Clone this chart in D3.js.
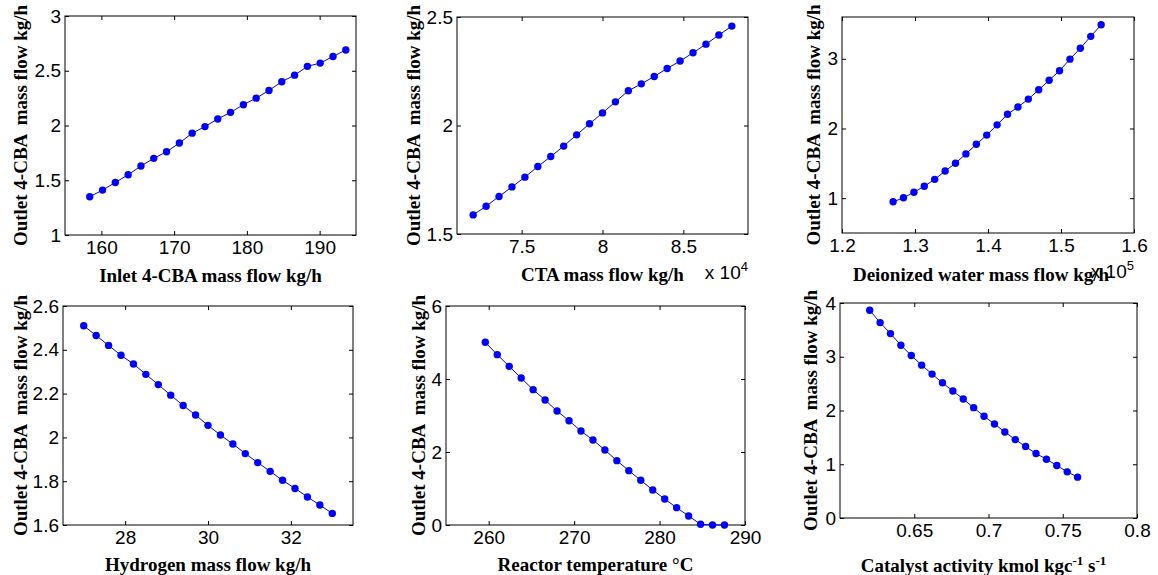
<!DOCTYPE html>
<html>
<head>
<meta charset="utf-8">
<script src="https://cdn.jsdelivr.net/npm/d3@7"></script>
<style>
  body { margin: 0; background: #fff; }
  svg { display: block; }
  .tick text { font-family: "Liberation Sans", Arial, sans-serif; font-size: 19px; fill: #000; }
  .lab { font-family: "Liberation Serif", "Times New Roman", serif; font-weight: bold; font-size: 19px; fill: #000; white-space: pre; }
  .mult { font-family: "Liberation Sans", Arial, sans-serif; font-size: 19px; fill: #000; }
</style>
</head>
<body>
<svg id="chart" width="1158" height="575"></svg>
<script>
// values (21 simulation points per panel)
const inletX = [158.4, 160.16, 161.92, 163.68, 165.44, 167.2, 168.96, 170.72, 172.48, 174.24, 176,
  177.76, 179.52, 181.28, 183.04, 184.8, 186.56, 188.32, 190.08, 191.84, 193.6];
const inletY = [1.35, 1.41, 1.48, 1.55, 1.63, 1.70, 1.76, 1.84, 1.93, 1.99, 2.06,
  2.12, 2.19, 2.25, 2.32, 2.40, 2.46, 2.54, 2.57, 2.63, 2.69];

const ctaX = [72000, 72800, 73600, 74400, 75200, 76000, 76800, 77600, 78400, 79200, 80000,
  80800, 81600, 82400, 83200, 84000, 84800, 85600, 86400, 87200, 88000];
const ctaY = [1.588, 1.628, 1.673, 1.717, 1.762, 1.811, 1.857, 1.905, 1.957, 2.008, 2.058,
  2.109, 2.160, 2.192, 2.226, 2.263, 2.297, 2.335, 2.375, 2.417, 2.458];

const waterX = [127000, 128425, 129850, 131275, 132700, 134125, 135550, 136975, 138400, 139825, 141250,
  142675, 144100, 145525, 146950, 148375, 149800, 151225, 152650, 154075, 155500];
const waterY = [0.948, 1.005, 1.085, 1.171, 1.270, 1.389, 1.502, 1.635, 1.773, 1.905, 2.052,
  2.204, 2.308, 2.422, 2.555, 2.692, 2.829, 2.995, 3.152, 3.322, 3.488];

const h2X = [27, 27.3, 27.6, 27.9, 28.2, 28.5, 28.8, 29.1, 29.4, 29.7, 30,
  30.3, 30.6, 30.9, 31.2, 31.5, 31.8, 32.1, 32.4, 32.7, 33];
const h2Y = [2.510, 2.465, 2.420, 2.375, 2.335, 2.288, 2.241, 2.193, 2.146, 2.102, 2.055,
  2.011, 1.970, 1.926, 1.885, 1.845, 1.804, 1.767, 1.728, 1.691, 1.653];

const tempX = [259.6, 261, 262.4, 263.8, 265.2, 266.6, 268, 269.4, 270.8, 272.2, 273.6,
  275, 276.4, 277.8, 279.2, 280.6, 282, 283.4, 284.8, 286.2, 287.6];
const tempY = [5.005, 4.667, 4.347, 4.027, 3.708, 3.425, 3.123, 2.858, 2.575, 2.329, 2.055,
  1.763, 1.489, 1.224, 0.959, 0.712, 0.475, 0.247, 0.02, 0, 0];

const catX = [0.62, 0.627, 0.634, 0.641, 0.648, 0.655, 0.662, 0.669, 0.676, 0.683, 0.69,
  0.697, 0.704, 0.711, 0.718, 0.725, 0.732, 0.739, 0.746, 0.753, 0.76];
const catY = [3.864, 3.635, 3.431, 3.215, 3.023, 2.844, 2.677, 2.516, 2.362, 2.213, 2.053,
  1.892, 1.750, 1.601, 1.459, 1.329, 1.199, 1.094, 0.977, 0.859, 0.760];

// tick values
const inletTicks = [160, 170, 180, 190], inletYTicks = [1, 1.5, 2, 2.5, 3];
const ctaTicks = [75000, 80000, 85000], ctaYTicks = [1.5, 2, 2.5];
const waterTicks = [120000, 130000, 140000, 150000, 160000], waterYTicks = [1, 2, 3];
const h2Ticks = [28, 30, 32], h2YTicks = [1.6, 1.8, 2, 2.2, 2.4, 2.6];
const tempTicks = [260, 270, 280, 290], tempYTicks = [0, 2, 4, 6];
const catTicks = [0.65, 0.7, 0.75, 0.8], catYTicks = [0, 1, 2, 3, 4];

const yTitle = "Outlet 4-CBA  mass flow kg/h";

const fmt = d => String(+d.toFixed(4));

const panels = [
  { x: inletX, y: inletY, xd: [155, 195], yd: [1, 3], xt: inletTicks, yt: inletYTicks,
    box: [65, 16, 356, 235], yLabX: 20, xLabY: 275, xLabel: [["Inlet 4-CBA mass flow kg/h"]] },
  { x: ctaX, y: ctaY, xd: [71000, 89000], yd: [1.5, 2.5], xt: ctaTicks, yt: ctaYTicks,
    xf: d => fmt(d / 1e4), mult: "4", box: [457, 17, 748, 234], yLabX: 413, xLabY: 274,
    xLabel: [["CTA mass flow kg/h"]] },
  { x: waterX, y: waterY, xd: [120000, 160000], yd: [0.5, 3.6], xt: waterTicks, yt: waterYTicks,
    xf: d => fmt(d / 1e5), mult: "5", box: [842, 17, 1134, 233], yLabX: 813, xLabY: 274, xShift: -7,
    xLabel: [["Deionized water mass flow kg/h"]] },
  { x: h2X, y: h2Y, xd: [26.5, 33.5], yd: [1.6, 2.6], xt: h2Ticks, yt: h2YTicks,
    box: [63, 306, 353, 525], yLabX: 20, xLabY: 564, xLabel: [["Hydrogen mass flow kg/h"]] },
  { x: tempX, y: tempY, xd: [255, 290], yd: [0, 6], xt: tempTicks, yt: tempYTicks,
    box: [446, 306, 745, 525], yLabX: 418, xLabY: 564, xLabel: [["Reactor temperature \u00B0C"]] },
  { x: catX, y: catY, xd: [0.6, 0.8], yd: [0, 4], xt: catTicks, yt: catYTicks,
    box: [840, 303, 1137, 518], yLabX: 810, xLabY: 565, xShift: -5,
    xLabel: [["Catalyst activity kmol kgc"], ["-1", "sup"], [" s"], ["-1", "sup"]] }
];

const svg = d3.select("#chart");
const tk = 4;

panels.forEach(p => {
  const [x0, y0, x1, y1] = p.box;
  const x = d3.scaleLinear().domain(p.xd).range([x0, x1]);
  const y = d3.scaleLinear().domain(p.yd).range([y1, y0]);
  const xf = p.xf || fmt;
  const g = svg.append("g");

  // MATLAB-style inward ticks on all four sides
  g.append("g").attr("transform", `translate(0,${y1})`)
    .call(d3.axisBottom(x).tickValues(p.xt).tickFormat(xf).tickSizeInner(-tk).tickSizeOuter(0).tickPadding(6))
    .call(a => a.select(".domain").remove());
  g.append("g").attr("transform", `translate(0,${y0})`)
    .call(d3.axisTop(x).tickValues(p.xt).tickFormat("").tickSizeInner(-tk).tickSizeOuter(0))
    .call(a => a.select(".domain").remove());
  g.append("g").attr("transform", `translate(${x0},0)`)
    .call(d3.axisLeft(y).tickValues(p.yt).tickFormat(fmt).tickSizeInner(-tk).tickSizeOuter(0).tickPadding(4))
    .call(a => a.select(".domain").remove());
  g.append("g").attr("transform", `translate(${x1},0)`)
    .call(d3.axisRight(y).tickValues(p.yt).tickFormat("").tickSizeInner(-tk).tickSizeOuter(0))
    .call(a => a.select(".domain").remove());

  g.append("rect")
    .attr("x", x0).attr("y", y0).attr("width", x1 - x0).attr("height", y1 - y0)
    .attr("fill", "none").attr("stroke", "#000").attr("stroke-width", 1);

  const pts = p.x.map((v, i) => [v, p.y[i]]);
  g.append("path").datum(pts)
    .attr("fill", "none").attr("stroke", "#0000ff").attr("stroke-width", 1)
    .attr("d", d3.line().x(d => x(d[0])).y(d => y(d[1])));
  g.selectAll("circle").data(pts).enter().append("circle")
    .attr("cx", d => x(d[0])).attr("cy", d => y(d[1])).attr("r", 3.7)
    .attr("fill", "#0000ff");

  // axis titles
  const xl = g.append("text").attr("class", "lab")
    .attr("x", (x0 + x1) / 2 + (p.xShift || 0)).attr("y", p.xLabY).attr("text-anchor", "middle");
  p.xLabel.forEach(([t, kind]) => {
    if (kind === "sup") xl.append("tspan").attr("dy", -7).attr("font-size", 13).text(t);
    else xl.append("tspan").attr("dy", xl.selectAll("tspan").size() ? 7 : 0).text(t);
  });

  g.append("text").attr("class", "lab")
    .attr("transform", `translate(${p.yLabX + 6.5},${(y0 + y1) / 2}) rotate(-90)`)
    .attr("text-anchor", "middle").text(yTitle);

  if (p.mult) {
    const m = g.append("text").attr("class", "mult")
      .attr("x", x1).attr("y", y1 + 45).attr("text-anchor", "end");
    m.append("tspan").text("x 10");
    m.append("tspan").attr("dy", -8).attr("font-size", 13).text(p.mult);
  }
});
</script>
</body>
</html>
